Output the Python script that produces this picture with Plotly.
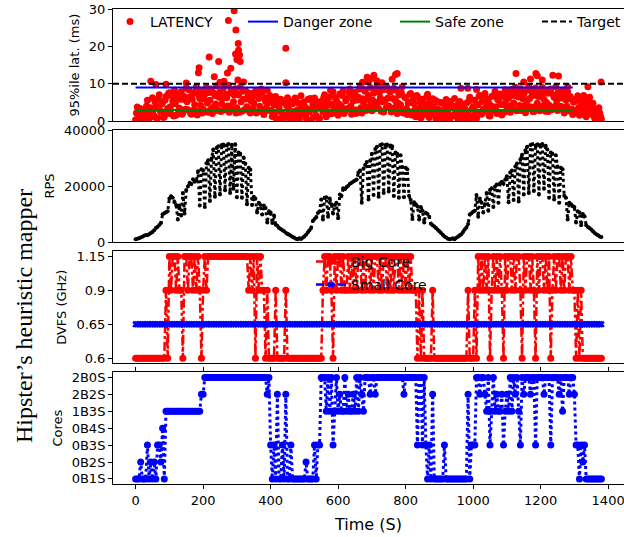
import plotly.graph_objects as go

# ---------------- data (one sample every 5 s) ----------------
STEP = 5

latency = [
    0.4, 3.8, 1.1, 2.7, 0.2, 3.3, 1.6, 5.6, 0.8, 2.9,
    6.3, 1.4, 4.2, 0.9, 7.1, 2.5, 5.0, 1.2, 6.6, 3.4,
    7.6, 2.0, 5.4, 8.3, 1.6, 6.2, 3.5, 7.9, 2.3, 5.8,
    8.8, 3.1, 6.5, 1.9, 7.4, 4.4, 9.2, 2.6, 6.1, 8.1,
    3.3, 7.2, 9.0, 2.4, 5.6, 8.6, 3.8, 6.9, 9.4, 2.9,
    7.8, 4.6, 8.9, 3.2, 6.3, 9.6, 4.0, 7.5, 5.2, 8.7,
    3.6, 7.0, 9.1, 2.7, 5.9, 8.2, 3.9, 6.6, 2.2, 7.4,
    4.8, 8.0, 2.5, 6.1, 3.4, 7.7, 1.8, 5.3, 8.3, 2.9,
    5.7, 1.3, 4.4, 6.6, 0.7, 3.6, 5.9, 2.1, 4.9, 1.0,
    6.3, 2.6, 0.4, 4.7, 1.8, 5.5, 3.1, 0.6, 6.8, 2.3,
    4.1, 0.9, 5.8, 2.8, 0.3, 4.6, 6.2, 1.5, 3.7, 0.8,
    5.3, 2.4, 7.1, 1.2, 4.3, 6.5, 2.0, 7.9, 3.6, 5.6,
    1.6, 7.3, 4.0, 8.2, 2.7, 6.0, 3.3, 8.6, 1.9, 5.4,
    7.7, 3.0, 6.4, 9.3, 2.2, 5.1, 8.0, 3.8, 6.9, 9.0,
    2.8, 7.5, 4.6, 9.4, 3.4, 6.2, 8.4, 2.5, 5.7, 9.1,
    4.1, 7.9, 3.0, 8.8, 5.5, 2.1, 7.0, 4.4, 9.2, 2.9,
    6.3, 1.8, 5.1, 7.4, 2.6, 4.7, 1.2, 6.6, 3.5, 0.9,
    5.9, 2.2, 4.1, 7.2, 1.0, 3.8, 6.0, 2.7, 0.6, 5.2,
    3.1, 0.4, 4.9, 1.7, 5.8, 2.6, 0.3, 4.4, 1.4, 6.1,
    2.9, 0.7, 5.3, 1.9, 3.7, 0.5, 4.8, 2.3, 6.4, 1.1,
    3.9, 5.6, 0.8, 4.4, 6.9, 1.9, 3.2, 7.4, 2.6, 5.1,
    1.4, 6.6, 3.6, 8.0, 2.1, 5.6, 7.3, 1.7, 4.5, 8.4,
    3.0, 6.2, 2.4, 7.8, 4.9, 9.1, 2.8, 6.5, 8.7, 3.7,
    7.2, 2.3, 5.5, 9.3, 3.9, 6.8, 2.6, 8.9, 4.8, 7.6,
    3.1, 9.0, 5.8, 2.7, 7.5, 4.3, 8.6, 3.5, 6.4, 9.2,
    2.9, 6.9, 4.0, 8.3, 2.2, 5.7, 7.9, 3.3, 6.0, 1.8,
    5.3, 2.5, 6.8, 1.6, 4.6, 3.0, 5.9, 1.2, 3.9, 6.4,
    2.4, 4.8, 0.9, 3.1, 1.5, 2.2, 0.6,
]
# second reading of the same band, taken half-way between the samples above
latency_mid = [
    2.2, 0.6, 3.4, 1.5, 2.9, 0.7, 4.1, 2.0, 3.6, 1.2,
    3.0, 5.3, 0.8, 6.0, 2.9, 4.6, 1.0, 5.7, 2.1, 7.4,
    3.9, 6.8, 1.4, 4.7, 7.0, 2.8, 5.9, 1.9, 6.7, 3.2,
    5.2, 8.4, 2.3, 5.9, 3.0, 8.1, 1.7, 6.9, 4.3, 2.2,
    6.0, 2.6, 4.9, 7.7, 3.2, 2.1, 7.5, 4.6, 3.0, 6.4,
    2.6, 6.1, 3.0, 7.2, 4.1, 2.4, 8.2, 3.3, 7.0, 2.2,
    7.3, 2.4, 5.2, 8.0, 3.1, 6.0, 7.6, 2.6, 5.4, 3.4,
    6.7, 2.2, 7.4, 4.0, 8.6, 2.4, 6.3, 3.6, 4.8, 6.9,
    2.9, 6.0, 2.3, 0.6, 5.1, 2.7, 0.9, 5.4, 1.6, 4.2,
    3.9, 5.3, 1.3, 2.6, 6.2, 0.9, 4.9, 2.1, 3.8, 5.1,
    1.6, 3.4, 2.4, 6.1, 3.3, 1.2, 3.0, 5.3, 0.6, 4.5,
    3.2, 6.4, 4.0, 5.4, 2.1, 8.3, 4.6, 3.5, 6.3, 2.0,
    4.6, 3.0, 6.9, 2.1, 5.5, 3.4, 7.6, 4.1, 6.8, 3.0,
    2.1, 5.7, 8.6, 3.6, 6.0, 8.4, 2.9, 5.9, 3.2, 4.7,
    5.6, 3.3, 8.2, 5.1, 7.7, 2.7, 5.2, 8.5, 3.6, 6.2,
    8.0, 2.5, 6.1, 3.7, 8.3, 4.9, 3.3, 7.6, 2.2, 6.4,
    3.4, 4.9, 7.2, 1.7, 5.8, 3.0, 6.9, 2.4, 5.2, 4.1,
    1.7, 4.6, 6.5, 2.4, 5.2, 1.8, 3.9, 5.6, 3.3, 2.0,
    5.0, 2.5, 1.8, 4.1, 0.8, 3.9, 5.3, 1.5, 3.6, 2.2,
    4.3, 3.2, 1.3, 4.6, 0.9, 3.1, 1.7, 5.4, 0.6, 3.4,
    1.7, 2.6, 4.4, 6.7, 2.3, 5.3, 7.0, 3.7, 5.8, 1.5,
    4.2, 2.8, 7.0, 3.9, 5.9, 2.3, 4.5, 6.6, 2.4, 5.7,
    7.4, 4.1, 8.5, 3.5, 6.8, 3.0, 7.9, 4.2, 2.9, 6.0,
    4.2, 8.2, 3.3, 6.1, 8.0, 2.6, 7.3, 4.2, 6.6, 2.8,
    6.6, 4.1, 8.1, 5.0, 2.6, 8.4, 3.1, 7.1, 4.0, 5.5,
    7.8, 3.9, 6.2, 2.9, 7.3, 4.0, 2.8, 6.6, 3.2, 5.1,
    2.9, 6.0, 3.6, 5.4, 1.9, 6.9, 2.7, 4.5, 5.6, 2.0,
    4.1, 1.4, 2.9, 0.8, 3.6, 1.3,
]
# isolated latency spikes (time s, value ms)
lat_extra_t = [45, 60, 90, 150, 186, 188, 218, 233, 246, 250, 262, 272, 275, 282,
               292, 296, 297, 300, 303, 304, 305, 308, 310, 320, 445, 445,
               672, 686, 690, 700, 706, 715, 730, 760, 770, 775,
               964, 984, 1010, 1127, 1150, 1170, 1186, 1190, 1205, 1236, 1253,
               1280, 1340, 1379]
lat_extra_v = [10.7, 9.8, 9.9, 10.2, 13.0, 14.3, 17.2, 11.9, 16.0, 10.4, 10.7, 12.9, 26.9, 14.2,
               29.5, 18.0, 24.4, 16.5, 11.0, 20.8, 19.0, 17.7, 16.0, 10.5, 19.5, 10.3,
               10.4, 11.8, 10.6, 11.5, 12.3, 10.8, 10.3, 11.2, 12.5, 12.8,
               8.8, 8.8, 8.5, 12.8, 10.5, 11.3, 12.8, 12.2, 11.0, 12.3, 12.1,
               9.2, 9.2, 10.5]

rps_k = [  # requests per second, thousands
    1.0, 1.2, 1.3, 1.6, 1.9, 2.2, 2.5, 2.4, 2.8, 3.2,
    3.6, 4.2, 5.0, 5.4, 6.1, 6.8, 9.9, 10.3, 10.6, 11.0,
    15.5, 16.3, 15.8, 14.2, 13.2, 8.0, 13.0, 9.5, 17.5, 10.2,
    18.6, 19.8, 21.2, 20.7, 22.4, 21.5, 21.9, 25.3, 13.0, 26.0,
    25.6, 12.5, 28.1, 29.2, 14.6, 29.8, 33.0, 16.2, 33.6, 34.2,
    17.0, 34.6, 34.8, 18.5, 34.5, 35.0, 17.5, 34.7, 19.0, 34.9,
    16.0, 32.0, 31.5, 15.8, 30.2, 28.0, 13.5, 26.5, 25.8, 13.2,
    16.2, 15.5, 10.5, 14.0, 13.2, 9.8, 13.0, 12.1, 7.0, 11.0,
    10.5, 6.8, 9.5, 6.2, 5.8, 5.0, 4.6, 4.2, 3.8, 3.3,
    2.9, 2.6, 2.2, 1.8, 1.5, 1.2, 1.0, 1.3, 1.1, 1.5,
    2.0, 2.6, 3.4, 4.2, 5.0, 7.5, 8.2, 8.8, 10.4, 11.0,
    15.2, 8.0, 15.8, 16.0, 9.0, 15.5, 13.5, 10.2, 13.2, 14.0,
    8.5, 17.0, 16.5, 19.2, 18.8, 19.6, 20.1, 20.8, 21.2, 21.6,
    22.0, 22.3, 24.8, 25.5, 14.0, 26.2, 27.5, 28.6, 15.2, 29.0,
    31.5, 16.8, 33.2, 34.0, 16.2, 34.6, 34.9, 17.5, 34.6, 34.8,
    18.0, 34.5, 34.2, 16.4, 32.0, 31.5, 15.8, 31.0, 26.8, 16.0,
    26.5, 26.0, 16.5, 15.0, 8.2, 14.2, 13.5, 12.8, 8.0, 12.5,
    11.2, 7.0, 10.4, 10.0, 9.0, 6.5, 6.0, 5.5, 5.0, 4.4,
    3.8, 3.2, 2.6, 2.0, 1.6, 1.2, 1.0, 1.1, 1.3, 1.0,
    1.5, 1.9, 2.3, 2.8, 3.6, 4.5, 5.2, 6.4, 9.8, 10.3,
    10.8, 11.2, 16.8, 9.0, 15.5, 14.0, 10.5, 13.5, 17.5, 11.2,
    18.6, 19.2, 12.5, 19.8, 20.5, 14.0, 21.0, 21.5, 20.8, 22.2,
    23.5, 14.2, 24.8, 25.5, 15.0, 27.0, 28.0, 14.5, 29.5, 31.2,
    17.0, 32.8, 34.0, 17.5, 34.6, 34.9, 18.2, 34.5, 34.8, 17.0,
    34.6, 35.0, 19.0, 34.4, 33.0, 15.8, 32.0, 31.5, 15.2, 31.0,
    27.0, 14.0, 26.5, 26.0, 16.5, 15.8, 8.0, 14.0, 13.5, 12.8,
    12.5, 7.0, 11.0, 10.5, 6.0, 10.0, 9.2, 6.0, 5.4, 5.0,
    4.5, 3.8, 3.2, 2.8, 2.4, 2.0, 1.8,
]

big_core = (
    [0.6] * 18
    + [0.9, 0.6, 1.15, 0.9, 1.15, 1.15, 0.9, 1.15, 0.9, 0.9]
    + [0.6, 1.15, 1.15, 0.9, 1.15, 1.15, 0.9, 1.15, 0.9, 1.15]
    + [0.9, 0.6, 0.9, 1.15, 0.9, 1.15]
    + [1.15] * 23
    + [0.9, 1.15, 0.9, 1.15, 0.6, 1.15, 0.9, 1.15, 0.9, 0.9, 0.6, 0.9, 0.6]
    + [0.6, 0.6, 0.6, 0.9, 0.6, 0.6, 0.6, 0.6, 0.6, 0.9]
    + [0.6] * 21
    + [0.9, 1.15, 0.9, 1.15, 1.15, 0.9, 0.6, 1.15, 0.9, 1.15,
       1.15, 0.9, 1.15, 0.9, 0.9, 1.15, 0.9, 1.15, 0.9, 1.15,
       0.9, 1.15, 1.15, 0.9, 1.15, 0.9, 1.15, 1.15, 0.9, 1.15,
       0.9, 1.15, 1.15, 0.9, 1.15, 0.9, 1.15, 1.15, 0.9, 1.15,
       0.9, 1.15, 0.9, 1.15, 1.15, 0.9, 1.15, 0.9, 1.15, 0.9,
       1.15, 0.9, 1.15, 0.9, 0.9]
    + [0.9, 0.6, 0.9, 0.6, 0.9, 0.6, 0.6, 0.6, 0.6, 0.6, 0.9]
    + [0.6] * 20
    + [0.9, 0.6, 0.6, 0.6]
    + [0.9, 0.6, 1.15, 0.9, 1.15, 0.9, 1.15, 0.9, 1.15, 0.6,
       0.9, 1.15, 0.9, 1.15, 0.9, 1.15, 0.9, 0.6, 1.15, 0.9,
       1.15, 1.15, 0.9, 1.15, 0.9, 1.15, 1.15, 0.9, 0.6, 1.15,
       0.9, 1.15, 1.15, 0.9, 1.15, 0.9, 0.6, 1.15, 0.9, 1.15,
       1.15, 0.9, 1.15, 0.9, 1.15, 0.6, 0.9, 1.15, 0.9, 1.15,
       1.15, 0.9, 1.15, 0.9, 1.15, 1.15, 0.9, 1.15, 0.9, 0.9]
    + [0.6, 0.9, 0.6, 0.9, 0.6]
    + [0.6] * 11
)
small_core_ghz = 0.65

core_labels = ["0B1S", "0B2S", "0B3S", "0B4S", "1B3S", "2B2S", "2B0S"]
cores = (  # index into core_labels
    [0, 0, 0, 1, 0, 0, 0, 2, 0, 1, 0, 1, 0, 2, 2, 1, 3, 0]
    + [4] * 21
    + [5, 5]
    + [6] * 37
    + [5, 6, 2, 0, 2, 0, 5, 0, 0, 2, 0, 5, 0, 0, 2, 0, 0, 0, 0, 0,
       0, 0, 0, 1, 0, 0, 0, 0, 2, 0, 2, 2]
    + [6, 6, 6, 4, 6, 4, 6, 2, 4, 6, 4, 5, 4, 4, 6, 4, 5, 4, 4, 5,
       4, 6, 4, 6, 5, 4, 6]
    + [6, 6, 5, 6, 6, 5, 6, 6, 6, 6, 6, 6, 6, 6, 6, 6, 6, 6, 6, 6,
       6, 6, 5, 6, 6, 6, 6, 6, 6, 6]
    + [2, 6, 6, 2, 6, 2, 0, 2, 0, 5]
    + [0] * 6 + [2] + [0] * 13 + [5, 0, 2, 2, 2]
    + [6, 6, 5, 6, 6, 5, 4, 6, 2, 4,
       6, 4, 5, 4, 4, 5, 2, 4, 5, 4,
       6, 4, 6, 5, 6, 4, 2, 6, 5, 6,
       6, 6, 5, 6, 6, 2, 6, 6, 6, 6,
       5, 6, 6, 6, 2, 6, 6, 6, 6, 5,
       6, 4, 6, 6, 6, 5, 6, 6, 5]
    + [2, 2, 0, 2, 1, 2, 0, 0, 0, 0, 0, 0, 0, 0, 0, 0]
)

danger_ms, safe_ms, target_ms = 9, 3, 10
zone_span = [0, 1295]
dvfs_labels = ["0.6", "0.65", "0.9", "1.15"]
x_ticks = [0, 200, 400, 600, 800, 1000, 1200, 1400]

# ---------------- figure ----------------
def times(series, offset=0.0):
    return [STEP * i + offset for i in range(len(series))]

W, H = 624, 537
L, R, T, B = 113, 0, 9, 53
PH = H - T - B
PW = W - L - R

def dom(top, bot):
    return [(H - B - bot) / PH, (H - B - top) / PH]

def px_x(x):
    return (x - L) / PW

def px_y(y):
    return (H - B - y) / PH

RED, BLUE, GREEN = "#ff0000", "#0000ff", "#008000"
dvfs_map = {0.6: "0.6", 0.65: "0.65", 0.9: "0.9", 1.15: "1.15"}
XR = [-67, 1447]

fig = go.Figure()

# panel 1 : latency
fig.add_trace(go.Scatter(
    x=times(latency) + times(latency_mid, STEP / 2) + lat_extra_t,
    y=latency + latency_mid + lat_extra_v, mode="markers",
    marker=dict(color=RED, size=7), name="LATENCY", xaxis="x", yaxis="y",
    legend="legend"))
fig.add_trace(go.Scatter(
    x=zone_span, y=[danger_ms] * 2, mode="lines", line=dict(color=BLUE, width=2),
    name="Danger zone", xaxis="x", yaxis="y", legend="legend2"))
fig.add_trace(go.Scatter(
    x=zone_span, y=[safe_ms] * 2, mode="lines", line=dict(color=GREEN, width=2),
    name="Safe zone", xaxis="x", yaxis="y", legend="legend3"))
fig.add_trace(go.Scatter(
    x=XR, y=[target_ms] * 2, mode="lines",
    line=dict(color="black", width=2, dash="6px,3px"),
    name="Target", xaxis="x", yaxis="y", legend="legend4"))

# panel 2 : RPS
fig.add_trace(go.Scatter(
    x=times(rps_k), y=[v * 1000 for v in rps_k], mode="lines+markers",
    line=dict(color="black", width=3, dash="dot"),
    marker=dict(color="black", size=4), showlegend=False, xaxis="x2", yaxis="y2"))

# panel 3 : DVFS
fig.add_trace(go.Scatter(
    x=times(big_core), y=[dvfs_map[v] for v in big_core], mode="lines+markers",
    line=dict(color=RED, width=2.5, dash="dashdot"),
    marker=dict(color=RED, size=7), name="Big Core", xaxis="x3", yaxis="y3",
    legend="legend5"))
fig.add_trace(go.Scatter(
    x=times(big_core), y=[dvfs_map[small_core_ghz]] * len(big_core), mode="lines+markers",
    line=dict(color=BLUE, width=2.5, dash="8px,3px"),
    marker=dict(color=BLUE, size=6, symbol="x"), name="Small Core",
    xaxis="x3", yaxis="y3", legend="legend6"))

# panel 4 : cores
fig.add_trace(go.Scatter(
    x=times(cores), y=[core_labels[i] for i in cores], mode="lines+markers",
    line=dict(color=BLUE, width=3, dash="dot"),
    marker=dict(color=BLUE, size=7), showlegend=False, xaxis="x4", yaxis="y4"))

frame = dict(showline=True, linecolor="black", linewidth=1, mirror=True,
             showgrid=False, zeroline=False)
yax = dict(frame, ticks="outside", ticklen=4, tickwidth=1, tickcolor="black",
           title_font=dict(size=13), title_standoff=6)

def xax(anchor, last=False):
    d = dict(frame, domain=[0, 1], anchor=anchor, range=XR)
    if last:
        d.update(ticks="outside", ticklen=4, tickwidth=1, tickcolor="black",
                 mirror="ticks", tickvals=x_ticks, ticklabeloverflow="allow",
                 title=dict(text="Time (S)", standoff=12))
    else:
        d.update(showticklabels=False, ticks="")
    return d

def leg(xp, yp):
    return dict(x=px_x(xp), y=px_y(yp), xanchor="left", yanchor="middle",
                bgcolor="rgba(0,0,0,0)", borderwidth=0, font=dict(size=14),
                orientation="v")

fig.update_layout(
    width=W, height=H, margin=dict(l=L, r=R, t=T, b=B, autoexpand=False),
    paper_bgcolor="white", plot_bgcolor="white",
    font=dict(family="DejaVu Sans", size=13, color="black"),
    xaxis=xax("y"), xaxis2=xax("y2"), xaxis3=xax("y3"), xaxis4=xax("y4", True),
    yaxis=dict(yax, domain=dom(9, 121.3), anchor="x", range=[0, 30],
               tickvals=[0, 10, 20, 30], title_text="95%ile lat. (ms)"),
    yaxis2=dict(yax, domain=dom(130, 242), anchor="x2", range=[0, 40000],
                tickvals=[0, 20000, 40000], tickformat="d", title_text="RPS"),
    yaxis3=dict(yax, domain=dom(251.3, 363.3), anchor="x3", type="category",
                categoryorder="array", categoryarray=dvfs_labels,
                range=[-0.15, 3.15], title_text="DVFS (GHz)"),
    yaxis4=dict(yax, domain=dom(372.3, 484), anchor="x4", type="category",
                categoryorder="array", categoryarray=core_labels,
                range=[-0.3, 6.3], title_text="Cores"),
    legend=leg(110, 22), legend2=leg(243, 22), legend3=leg(395, 22),
    legend4=leg(537, 22), legend5=leg(311, 262), legend6=leg(311, 285),
    annotations=[dict(text="Hipster\u2019s heuristic mapper", textangle=-90,
                      xref="paper", yref="paper", x=px_x(24), y=px_y(316),
                      xanchor="center", yanchor="middle", showarrow=False,
                      font=dict(family="Liberation Serif", size=24, color="black"))],
)

fig.write_html("out.html",
               config={"displayModeBar": False},
               post_script="document.body.style.margin='0';"
                           "document.body.style.overflow='hidden';")
